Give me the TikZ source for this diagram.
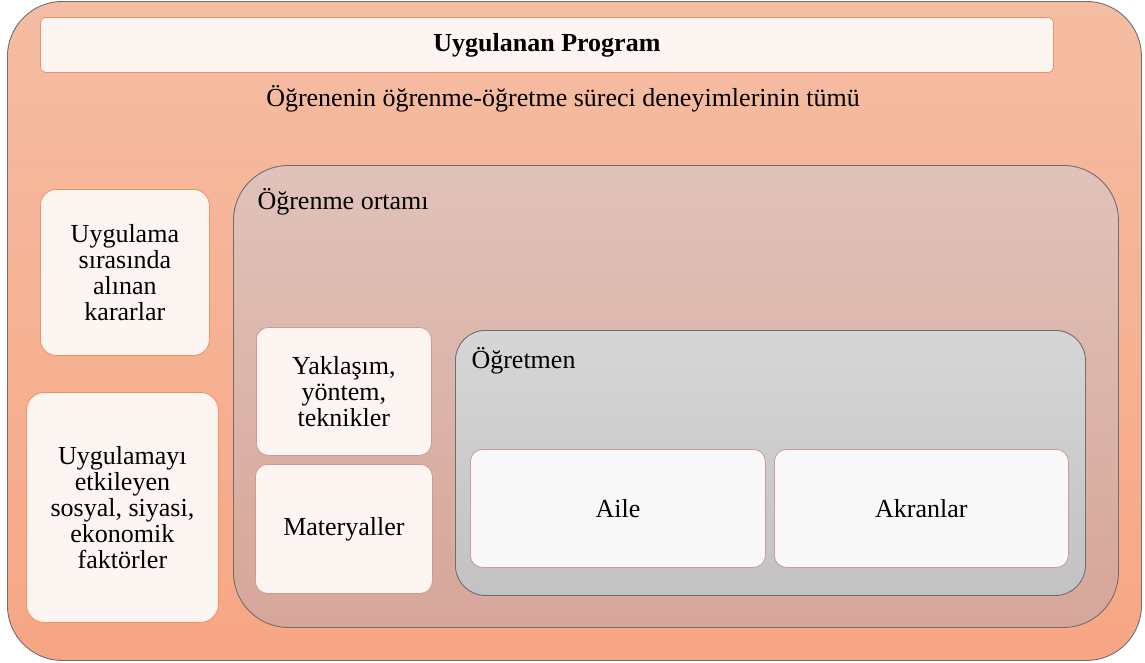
\documentclass[tikz,border=0pt]{standalone}
\usepackage{fontspec}
\setmainfont{Liberation Serif}
\usetikzlibrary{positioning}
\definecolor{outerTop}{HTML}{F5BDA3}
\definecolor{outerBot}{HTML}{F7A684}
\definecolor{envTop}{HTML}{E1C2BA}
\definecolor{envBot}{HTML}{D6A699}
\definecolor{tchTop}{HTML}{D6D6D6}
\definecolor{tchBot}{HTML}{C2C2C2}
\definecolor{frame}{HTML}{6E6E6E}
\definecolor{orangeEdge}{HTML}{EE9464}
\definecolor{roseEdge}{HTML}{CC9C92}
\definecolor{paleFill}{HTML}{FCF5F2}
\definecolor{whiteFill}{HTML}{F8F8F8}
\tikzset{
  x=1pt, y=-1pt,
  txt/.style={font=\rmfamily\fontsize{26}{26}\selectfont, text=black},
  panel/.style={draw=frame, line width=0.9pt, inner sep=0pt, anchor=north west},
  card/.style={txt, inner sep=0pt, anchor=north west, align=center, line width=0.8pt},
}
\begin{document}
\begin{tikzpicture}
\useasboundingbox (0,0) rectangle (1145,662);
% outer programme frame
\node[panel, rounded corners=55pt, top color=outerTop, bottom color=outerBot,
      minimum width=1134pt, minimum height=659pt] (outer) at (7,1) {};
% title bar
\node[card, draw=orangeEdge, fill=paleFill, rounded corners=5pt,
      minimum width=1013pt, minimum height=55pt] (title) at (40,17)
      {\bfseries Uygulanan Program};
\node[txt] (sub) at (563,99) {Öğrenenin öğrenme-öğretme süreci deneyimlerinin tümü};
% side cards
\node[card, draw=orangeEdge, fill=paleFill, rounded corners=16pt,
      minimum width=169pt, minimum height=166pt] (karar) at (40,189)
      {Uygulama\\sırasında\\alınan\\kararlar};
\node[card, draw=orangeEdge, fill=paleFill, rounded corners=18pt,
      minimum width=192pt, minimum height=230pt] (faktor) at (26,392)
      {Uygulamayı\\etkileyen\\sosyal, siyasi,\\ekonomik\\faktörler};
% learning environment
\node[panel, rounded corners=55pt, top color=envTop, bottom color=envBot,
      minimum width=885pt, minimum height=462pt] (env) at (233,165) {};
\node[txt, anchor=west] (envlbl) at (254,202) {Öğrenme ortamı};
\node[card, draw=roseEdge, fill=paleFill, rounded corners=12pt,
      minimum width=175pt, minimum height=128pt] (yak) at (256,327)
      {Yaklaşım,\\yöntem,\\teknikler};
\node[card, draw=roseEdge, fill=paleFill, rounded corners=12pt,
      minimum width=177pt, minimum height=129pt] (mat) at (255,464)
      {Materyaller};
% teacher
\node[panel, rounded corners=30pt, top color=tchTop, bottom color=tchBot,
      minimum width=630pt, minimum height=265pt] (tch) at (455,330) {};
\node[txt, anchor=west] (tchlbl) at (468,361) {Öğretmen};
\node[card, draw=roseEdge, fill=whiteFill, rounded corners=12pt,
      minimum width=295pt, minimum height=118pt] (aile) at (470,449) {Aile};
\node[card, draw=roseEdge, fill=whiteFill, rounded corners=12pt,
      minimum width=294pt, minimum height=118pt] (akran) at (774,449) {Akranlar};
\end{tikzpicture}
\end{document}
